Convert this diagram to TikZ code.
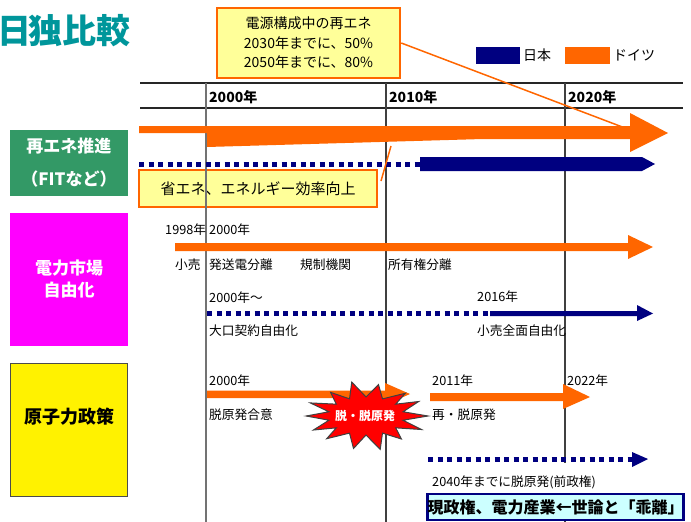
\documentclass[tikz,border=0pt]{standalone}
\usepackage{fontspec}
\setmainfont{Noto Sans CJK JP}
\definecolor{ora}{RGB}{255,102,0}
\definecolor{nav}{RGB}{0,0,128}
\definecolor{titlecol}{RGB}{0,150,155}
\definecolor{grn}{RGB}{51,153,102}
\definecolor{mag}{RGB}{255,0,255}
\definecolor{lyel}{RGB}{255,255,153}
\definecolor{cyanl}{RGB}{204,255,255}
\begin{document}
\begin{tikzpicture}[x=1pt,y=-1pt,
  lbl/.style={anchor=west,inner sep=0,font=\fontsize{12.7}{14}\selectfont},
  yr/.style={anchor=west,inner sep=0,font=\bfseries\fontsize{14}{16}\selectfont},
  rowlab/.style={minimum width=118,inner sep=0,align=center,text=white,font=\bfseries\fontsize{17}{22}\selectfont},
  notebox/.style={draw=ora,line width=2.5,fill=lyel,inner sep=0,align=center},
  gridh/.style={draw=black!85,line width=2},
  gridv/.style={draw=black!75,line width=1.2},
  dotbar/.style={draw=nav,line width=5,dash pattern=on 5 off 4.5},
  burst/.style={fill=red,draw=black!75,line width=1}
]
\useasboundingbox (0,0) rectangle (691,522);
\clip (0,0) rectangle (691,522);

% title
\node[anchor=east,inner sep=0,text=titlecol,font=\bfseries\fontsize{34}{34}\selectfont] (title) at (131,31) {\kern-2pt日\kern-3pt独比較};

% callout box
\node[notebox,minimum width=183,minimum height=70,font=\fontsize{14}{19.5}\selectfont] (goal) at (308.5,43) {電源構成中の再エネ\\2030年までに、50\%\\2050年までに、80\%};

% legend
\node[fill=nav,minimum width=44,minimum height=17,inner sep=0,anchor=west] (lgj) at (476,55.5) {};
\node[lbl,font=\fontsize{14}{16}\selectfont] (lgjt) at (523,55.5) {日本};
\node[fill=ora,minimum width=45,minimum height=17,inner sep=0,anchor=west] (lgd) at (565,55.5) {};
\node[lbl,font=\fontsize{14}{16}\selectfont] (lgdt) at (613,55.5) {ドイツ};

% efficiency box
\node[notebox,minimum width=238,minimum height=37,font=\fontsize{15}{17}\selectfont] (eff) at (258,188.5) {省エネ、エネルギー効率向上};

% row boxes
\node[rowlab,fill=grn,minimum height=66] (re) at (69,163) {再エネ推進\\[11pt]（FITなど）};
\node[rowlab,fill=mag,minimum height=133] (mkt) at (69,279.5) {電力市場\\自由化};
\node[fill=yellow,draw=black!70,line width=1.5,minimum width=117,minimum height=133,inner sep=0] (nuc) at (69,430) {};
\node[inner sep=0,font=\bfseries\fontsize{18}{20}\selectfont] (nuct) at (69,417) {原子力政策};

% grid
\coordinate (h1a) at (140,83); \coordinate (h1b) at (683,83);
\coordinate (h2a) at (140,108); \coordinate (h2b) at (683,108);
\draw[gridh] (h1a) -- (h1b);
\draw[gridh] (h2a) -- (h2b);
\coordinate (v1a) at (206,83); \coordinate (v1b) at (206,522);
\coordinate (v2a) at (386,83); \coordinate (v2b) at (386,522);
\coordinate (v3a) at (565,83); \coordinate (v3b) at (565,463);
\coordinate (v3c) at (565,516); \coordinate (v3d) at (565,522);
\draw[draw=black!55,line width=2] (v1a) -- (v1b);
\draw[gridv] (v2a) -- (v2b);
\draw[gridv] (v3a) -- (v3b);
\draw[gridv] (v3c) -- (v3d);

% header years
\node[yr] (y2000) at (209,97) {2000年};
\node[yr] (y2010) at (389,97) {2010年};
\node[yr] (y2020) at (568,97) {2020年};

% row 1 bars
\fill[ora] (139,126) -- (630,126) -- (630,113) -- (668,133) -- (630,152) -- (630,139) -- (483,139) -- (207,147) -- (207,133) -- (139,133) -- cycle;
\coordinate (d1a) at (139,164); \coordinate (d1b) at (421,164);
\draw[dotbar] (d1a) -- (d1b);
\fill[nav] (420,157) -- (642,157) -- (655,164) -- (642,171) -- (420,171) -- cycle;

% pointers
\coordinate (gp) at (625,128);
\draw[ora,line width=1.5] (goal.east) -- (gp);
\coordinate (ep1) at (381,181); \coordinate (ep2) at (391,146);
\draw[ora,line width=1.5] (ep1) -- (ep2);

% row 2
\fill[ora] (175,243) -- (628,243) -- (628,235) -- (653,247) -- (628,259) -- (628,251) -- (175,251) -- cycle;
\coordinate (d2a) at (207,313.5); \coordinate (d2b) at (497,313.5);
\draw[dotbar] (d2a) -- (d2b);
\fill[nav] (490,311) -- (637,311) -- (637,305) -- (653,313.5) -- (637,321) -- (637,316) -- (490,316) -- cycle;

\node[lbl] (t1998) at (165,230) {1998年};
\node[lbl] (t2000b) at (209,230) {2000年};
\node[lbl] (tkouri) at (175,265) {小売};
\node[lbl] (thatsu) at (209,265) {発送電分離};
\node[lbl] (tkisei) at (300,265) {規制機関};
\node[lbl] (tshoyu) at (388,265) {所有権分離};
\node[lbl] (t2000c) at (209,298) {2000年～};
\node[lbl] (t2016) at (477,297) {2016年};
\node[lbl] (toguchi) at (209,331) {大口契約自由化};
\node[lbl] (tzenmen) at (477,331) {小売全面自由化};

% row 3
\fill[ora] (207,390.5) -- (385,390.5) -- (385,383) -- (410,394) -- (385,405) -- (385,398) -- (207,398) -- cycle;
\fill[ora] (430,393) -- (563,393) -- (563,384) -- (590,397) -- (563,409) -- (563,401) -- (430,401) -- cycle;
\coordinate (d3a) at (428,459); \coordinate (d3b) at (633,459);
\draw[dotbar] (d3a) -- (d3b);
\fill[nav] (632,452) -- (648,459) -- (632,467) -- cycle;

\begin{scope}[shift={(366,416)}]
\filldraw[burst] (0:62 and 33)
  \foreach \i in {1,...,27} { -- ({\i*360/28}:{ifthenelse(isodd(\i),38,60+4*sin(\i*77))} and {ifthenelse(isodd(\i),19,32+3*cos(\i*53))}) } -- cycle;
\end{scope}
\node[inner sep=0,text=white,font=\bfseries\fontsize{12}{14}\selectfont] (burstt) at (365,416) {脱・脱原発};

\node[lbl] (t2000d) at (209,381) {2000年};
\node[lbl] (tgoui) at (209,415) {脱原発合意};
\node[lbl] (t2011) at (432,381) {2011年};
\node[lbl] (t2022) at (567,381) {2022年};
\node[lbl] (tsai) at (432,415) {再・脱原発};
\node[lbl] (t2040) at (432,482) {2040年までに脱原発(前政権)};

\node[draw=nav,line width=2.5,fill=cyanl,minimum width=255,minimum height=26,inner sep=0,font=\bfseries\fontsize{16}{18}\selectfont] (gap) at (555.5,507) {現政権、電力産業←世論と「乖離」};
\end{tikzpicture}
\end{document}
